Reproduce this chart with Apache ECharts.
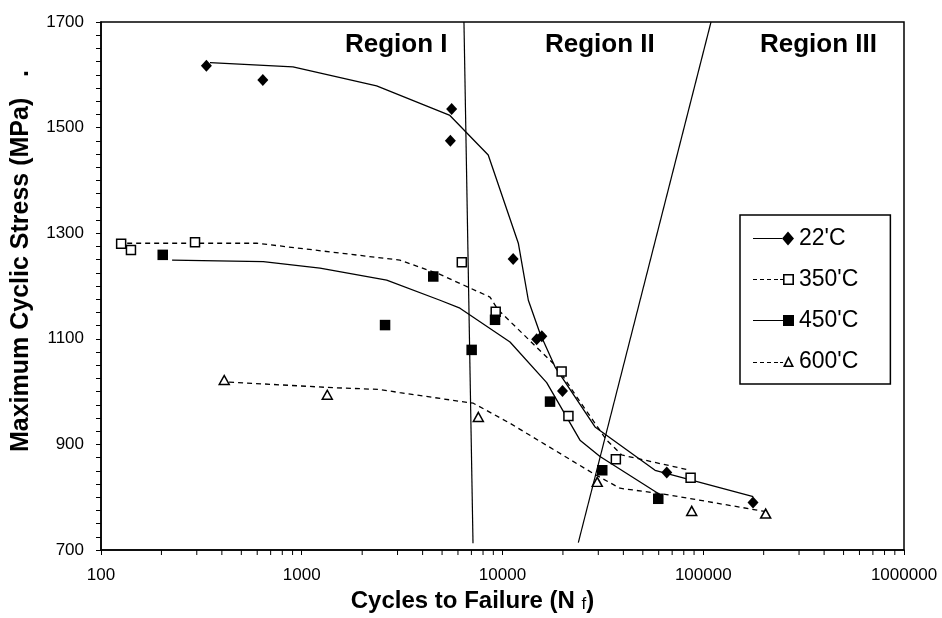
<!DOCTYPE html>
<html>
<head>
<meta charset="utf-8">
<script src="https://cdn.jsdelivr.net/npm/echarts@6/dist/echarts.min.js"></script>
<style>
  html, body { margin: 0; padding: 0; background: #fff; }
  #chart { width: 942px; height: 618px; }
</style>
</head>
<body>
<div id="chart"></div>
<script>
// Temperatures shown in the legend
const tempLabels = ["22'C", "350'C", "450'C", "600'C"];

// Test results: [cycles to failure, maximum cyclic stress (MPa)]
const pts22  = [[335,1617],[640,1590],[5580,1535],[5500,1475],[11300,1251],[14800,1099],[15700,1105],[19900,1001],[65800,847],[177000,790]];
const pts350 = [[126,1280],[141,1268],[294,1283],[6270,1245],[9250,1151],[19700,1038],[21300,954],[36700,872],[86500,837]];
const pts450 = [[203,1259],[2600,1126],[4520,1218],[7020,1079],[9180,1136],[17250,981],[31400,851],[59700,797]];
const pts600 = [[411,1022],[1340,994],[7580,952],[29650,829],[87600,774],[204600,769]];

// Trend curves through each temperature's results
const fit22  = [[349,1623],[904,1615],[2360,1579],[5470,1523],[8490,1448],[11990,1281],[13450,1173],[15380,1110],[18260,1047],[28900,933],[57540,851],[177400,801]];
const fit350 = [[135,1281],[597,1281],[3083,1249],[4884,1222],[8662,1179],[9506,1155],[18620,1047],[23420,990],[33040,908],[39270,880],[85900,851]];
const fit450 = [[226,1249],[643,1246],[1233,1234],[2649,1211],[4884,1173],[6138,1158],[10900,1094],[16600,1017],[24320,908],[30600,877],[59700,807]];
const fit600 = [[392,1019],[1330,1008],[2455,1004],[3083,998],[7154,978],[10900,940],[28300,845],[38460,817],[65770,805],[203100,773]];

// Boundaries between the fatigue regions
const boundaryI_II  = [[6427,1700],[7130,713]];
const boundaryII_III = [[23860,714],[109300,1700]];
const regionNames = ['Region I', 'Region II', 'Region III'];

// Axis settings
const xMin = 100, xMax = 1000000;
const yMin = 700, yMax = 1700, yStep = 200;
const minorMultipliers = [2,3,4,5,6,7,8,9];
const decades = [100, 1000, 10000, 100000];

const minorTickValues = [];
decades.forEach(d => minorMultipliers.forEach(m => minorTickValues.push([d * m, yMin])));

const FONT = '"Liberation Sans", Arial, Helvetica, sans-serif';
const BLACK = '#000';

// Legend keys: a line (solid or dashed) ending in the series marker
const keyIcons = [
  'path://M0,6.4L29,6.4L29,7.6L0,7.6Z M29,7L35,0L41,7L35,14Z',
  'path://M0,6.4L4,6.4L4,7.6L0,7.6Z M7,6.4L11,6.4L11,7.6L7,7.6Z M14,6.4L18,6.4L18,7.6L14,7.6Z M21,6.4L25,6.4L25,7.6L21,7.6Z M27,6.4L30,6.4L30,7.6L27,7.6Z' +
    ' M30,1.5L41,1.5L41,12.5L30,12.5Z M31.6,3.1L31.6,10.9L39.4,10.9L39.4,3.1Z',
  'path://M0,6.4L30,6.4L30,7.6L0,7.6Z M30,1.5L41,1.5L41,12.5L30,12.5Z',
  'path://M0,7.4L4,7.4L4,8.6L0,8.6Z M7,7.4L11,7.4L11,8.6L7,8.6Z M14,7.4L18,7.4L18,8.6L14,8.6Z M21,7.4L25,7.4L25,8.6L21,8.6Z M27,7.4L30,7.4L30,8.6L27,8.6Z' +
    ' M35.5,1.5L41,12.5L30,12.5Z M35.5,4.9L32.6,10.9L38.4,10.9Z'
];

const chart = echarts.init(document.getElementById('chart'), null, { renderer: 'canvas' });

function curve(name, data, dashed) {
  return {
    name, type: 'line', data, symbol: 'none',
    lineStyle: { color: BLACK, width: 1.3, type: dashed ? [5, 4] : 'solid' },
    itemStyle: { color: BLACK },
    silent: true, z: 3
  };
}
function points(name, data, symbol, symbolSize, filled) {
  return {
    name, type: 'scatter', data, symbol, symbolSize,
    itemStyle: { color: filled ? BLACK : '#fff', borderColor: BLACK, borderWidth: filled ? 0 : 1.5, opacity: 1 },
    silent: true, z: 4
  };
}
function boundary(data) {
  return {
    type: 'line', data, symbol: 'none', silent: true, z: 2,
    lineStyle: { color: BLACK, width: 1.2 }
  };
}
const plainNumber = v => String(v);

const option = {
  animation: false,
  backgroundColor: '#fff',
  grid: { left: 101, right: 38, top: 22, bottom: 68, show: true, borderColor: BLACK, borderWidth: 1.5, backgroundColor: '#fff' },
  xAxis: {
    type: 'log', logBase: 10, min: xMin, max: xMax,
    name: 'Cycles to Failure (N {s|f})',
    nameLocation: 'middle', nameGap: 32,
    nameTextStyle: {
      fontFamily: FONT, fontSize: 24, fontWeight: 'bold', color: BLACK,
      padding: [0, 60, 0, 0],
      rich: { s: { fontFamily: FONT, fontSize: 17, fontWeight: 'normal', color: BLACK, padding: [7, 0, 0, 0] } }
    },
    axisLine: { lineStyle: { color: BLACK, width: 1.5 } },
    axisTick: { show: true, inside: false, length: 5, lineStyle: { color: BLACK, width: 1 } },
    axisLabel: { fontFamily: FONT, fontSize: 17, color: BLACK, margin: 17, formatter: plainNumber },
    splitLine: { show: false }
  },
  yAxis: {
    type: 'value', min: yMin, max: yMax, interval: yStep,
    name: 'Maximum Cyclic Stress (MPa)   .',
    nameLocation: 'middle', nameGap: 67,
    nameTextStyle: { fontFamily: FONT, fontSize: 25, fontWeight: 'bold', color: BLACK, padding: [0, 0, 0, 50] },
    axisLine: { lineStyle: { color: BLACK, width: 1.5 } },
    axisTick: { show: true, inside: false, length: 5, lineStyle: { color: BLACK, width: 1 } },
    minorTick: { show: true, splitNumber: 8, length: 5, lineStyle: { color: BLACK, width: 1 } },
    axisLabel: { fontFamily: FONT, fontSize: 17, color: BLACK, margin: 17, formatter: plainNumber },
    splitLine: { show: false }
  },
  legend: {
    data: tempLabels.map((name, i) => ({ name, icon: keyIcons[i], itemStyle: { color: BLACK, borderWidth: 0 } })),
    orient: 'vertical', left: 740, top: 215,
    backgroundColor: '#fff', borderColor: BLACK, borderWidth: 1.5,
    padding: [12, 32, 11, 13],
    itemWidth: 41, itemHeight: 14, itemGap: 18,
    textStyle: { fontFamily: FONT, fontSize: 23, color: BLACK },
    selectedMode: false
  },
  graphic: [
    { type: 'text', left: 345, top: 32, style: { text: regionNames[0], font: 'bold 26px ' + FONT, fill: BLACK } },
    { type: 'text', left: 545, top: 32, style: { text: regionNames[1], font: 'bold 26px ' + FONT, fill: BLACK } },
    { type: 'text', left: 760, top: 32, style: { text: regionNames[2], font: 'bold 26px ' + FONT, fill: BLACK } }
  ],
  series: [
    curve(tempLabels[0], fit22, false),
    curve(tempLabels[1], fit350, true),
    curve(tempLabels[2], fit450, false),
    curve(tempLabels[3], fit600, true),
    points(tempLabels[0], pts22, 'diamond', [11, 12], true),
    points(tempLabels[1], pts350, 'rect', 9, false),
    points(tempLabels[2], pts450, 'rect', 10.5, true),
    points(tempLabels[3], pts600, 'triangle', [10, 9], false),
    boundary(boundaryI_II),
    boundary(boundaryII_III),
    {
      type: 'custom', silent: true, clip: false, z: 5,
      data: minorTickValues,
      encode: { x: 0, y: 1 },
      renderItem: function (params, api) {
        const p = api.coord([api.value(0), api.value(1)]);
        return { type: 'line', shape: { x1: p[0], y1: p[1], x2: p[0], y2: p[1] + 5 }, style: { stroke: BLACK, lineWidth: 1 } };
      }
    }
  ]
};

chart.setOption(option);
</script>
</body>
</html>
